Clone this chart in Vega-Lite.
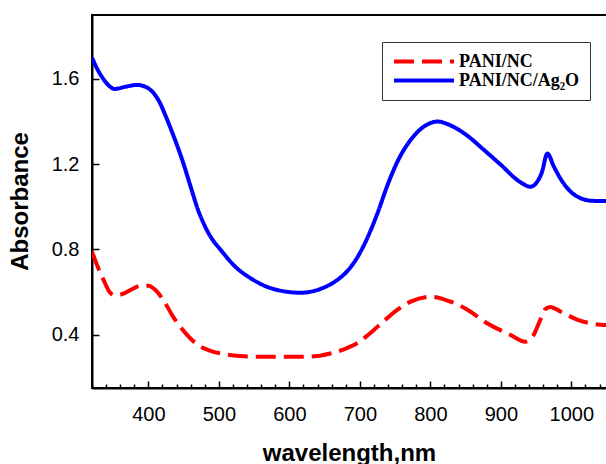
{
  "$schema": "https://vega.github.io/schema/vega-lite/v6.json",
  "width": 516,
  "height": 373,
  "autosize": {"type": "none"},
  "padding": {"left": 92, "top": 15, "right": 0, "bottom": 76},
  "background": "white",
  "config": {
    "view": {"stroke": "#000", "strokeWidth": 2},
    "axis": {"grid": false, "labelFont": "Liberation Sans", "labelFontSize": 20, "labelColor": "#000", "tickColor": "#000", "tickWidth": 1.5, "domainColor": "#000", "domainWidth": 2, "titleFont": "Liberation Sans", "titleFontWeight": "bold", "titleFontSize": 24, "titleColor": "#000"}
  },
  "datasets": {
    "spectra": [
      {"wl": 320, "A": 1.70, "s": "PANI/NC/Ag₂O"},
      {"wl": 327, "A": 1.65, "s": "PANI/NC/Ag₂O"},
      {"wl": 335, "A": 1.605, "s": "PANI/NC/Ag₂O"},
      {"wl": 343, "A": 1.572, "s": "PANI/NC/Ag₂O"},
      {"wl": 352, "A": 1.553, "s": "PANI/NC/Ag₂O"},
      {"wl": 367, "A": 1.563, "s": "PANI/NC/Ag₂O"},
      {"wl": 384, "A": 1.572, "s": "PANI/NC/Ag₂O"},
      {"wl": 399, "A": 1.558, "s": "PANI/NC/Ag₂O"},
      {"wl": 407, "A": 1.535, "s": "PANI/NC/Ag₂O"},
      {"wl": 416, "A": 1.49, "s": "PANI/NC/Ag₂O"},
      {"wl": 424, "A": 1.43, "s": "PANI/NC/Ag₂O"},
      {"wl": 436, "A": 1.33, "s": "PANI/NC/Ag₂O"},
      {"wl": 448, "A": 1.22, "s": "PANI/NC/Ag₂O"},
      {"wl": 460, "A": 1.094, "s": "PANI/NC/Ag₂O"},
      {"wl": 471, "A": 0.98, "s": "PANI/NC/Ag₂O"},
      {"wl": 478, "A": 0.925, "s": "PANI/NC/Ag₂O"},
      {"wl": 485, "A": 0.878, "s": "PANI/NC/Ag₂O"},
      {"wl": 491, "A": 0.846, "s": "PANI/NC/Ag₂O"},
      {"wl": 502, "A": 0.80, "s": "PANI/NC/Ag₂O"},
      {"wl": 523, "A": 0.72, "s": "PANI/NC/Ag₂O"},
      {"wl": 545, "A": 0.665, "s": "PANI/NC/Ag₂O"},
      {"wl": 577, "A": 0.615, "s": "PANI/NC/Ag₂O"},
      {"wl": 616, "A": 0.597, "s": "PANI/NC/Ag₂O"},
      {"wl": 648, "A": 0.62, "s": "PANI/NC/Ag₂O"},
      {"wl": 665, "A": 0.65, "s": "PANI/NC/Ag₂O"},
      {"wl": 682, "A": 0.698, "s": "PANI/NC/Ag₂O"},
      {"wl": 695, "A": 0.755, "s": "PANI/NC/Ag₂O"},
      {"wl": 705, "A": 0.815, "s": "PANI/NC/Ag₂O"},
      {"wl": 725, "A": 0.97, "s": "PANI/NC/Ag₂O"},
      {"wl": 739, "A": 1.10, "s": "PANI/NC/Ag₂O"},
      {"wl": 753, "A": 1.21, "s": "PANI/NC/Ag₂O"},
      {"wl": 776, "A": 1.33, "s": "PANI/NC/Ag₂O"},
      {"wl": 795, "A": 1.385, "s": "PANI/NC/Ag₂O"},
      {"wl": 810, "A": 1.40, "s": "PANI/NC/Ag₂O"},
      {"wl": 830, "A": 1.38, "s": "PANI/NC/Ag₂O"},
      {"wl": 852, "A": 1.335, "s": "PANI/NC/Ag₂O"},
      {"wl": 875, "A": 1.27, "s": "PANI/NC/Ag₂O"},
      {"wl": 899, "A": 1.20, "s": "PANI/NC/Ag₂O"},
      {"wl": 928, "A": 1.115, "s": "PANI/NC/Ag₂O"},
      {"wl": 942, "A": 1.094, "s": "PANI/NC/Ag₂O"},
      {"wl": 952, "A": 1.12, "s": "PANI/NC/Ag₂O"},
      {"wl": 958, "A": 1.16, "s": "PANI/NC/Ag₂O"},
      {"wl": 966, "A": 1.25, "s": "PANI/NC/Ag₂O"},
      {"wl": 975, "A": 1.19, "s": "PANI/NC/Ag₂O"},
      {"wl": 989, "A": 1.11, "s": "PANI/NC/Ag₂O"},
      {"wl": 1009, "A": 1.047, "s": "PANI/NC/Ag₂O"},
      {"wl": 1031, "A": 1.028, "s": "PANI/NC/Ag₂O"},
      {"wl": 1052, "A": 1.027, "s": "PANI/NC/Ag₂O"},
      {"wl": 320, "A": 0.79, "s": "PANI/NC"},
      {"wl": 328, "A": 0.72, "s": "PANI/NC"},
      {"wl": 336, "A": 0.66, "s": "PANI/NC"},
      {"wl": 345, "A": 0.60, "s": "PANI/NC"},
      {"wl": 352, "A": 0.585, "s": "PANI/NC"},
      {"wl": 362, "A": 0.59, "s": "PANI/NC"},
      {"wl": 375, "A": 0.61, "s": "PANI/NC"},
      {"wl": 390, "A": 0.63, "s": "PANI/NC"},
      {"wl": 400, "A": 0.63, "s": "PANI/NC"},
      {"wl": 410, "A": 0.61, "s": "PANI/NC"},
      {"wl": 421, "A": 0.564, "s": "PANI/NC"},
      {"wl": 435, "A": 0.485, "s": "PANI/NC"},
      {"wl": 452, "A": 0.41, "s": "PANI/NC"},
      {"wl": 469, "A": 0.355, "s": "PANI/NC"},
      {"wl": 485, "A": 0.328, "s": "PANI/NC"},
      {"wl": 506, "A": 0.31, "s": "PANI/NC"},
      {"wl": 530, "A": 0.30, "s": "PANI/NC"},
      {"wl": 555, "A": 0.297, "s": "PANI/NC"},
      {"wl": 616, "A": 0.297, "s": "PANI/NC"},
      {"wl": 640, "A": 0.30, "s": "PANI/NC"},
      {"wl": 658, "A": 0.312, "s": "PANI/NC"},
      {"wl": 680, "A": 0.335, "s": "PANI/NC"},
      {"wl": 697, "A": 0.362, "s": "PANI/NC"},
      {"wl": 712, "A": 0.40, "s": "PANI/NC"},
      {"wl": 725, "A": 0.437, "s": "PANI/NC"},
      {"wl": 753, "A": 0.517, "s": "PANI/NC"},
      {"wl": 772, "A": 0.555, "s": "PANI/NC"},
      {"wl": 800, "A": 0.578, "s": "PANI/NC"},
      {"wl": 820, "A": 0.565, "s": "PANI/NC"},
      {"wl": 857, "A": 0.508, "s": "PANI/NC"},
      {"wl": 875, "A": 0.465, "s": "PANI/NC"},
      {"wl": 913, "A": 0.40, "s": "PANI/NC"},
      {"wl": 935, "A": 0.367, "s": "PANI/NC"},
      {"wl": 945, "A": 0.39, "s": "PANI/NC"},
      {"wl": 956, "A": 0.47, "s": "PANI/NC"},
      {"wl": 963, "A": 0.52, "s": "PANI/NC"},
      {"wl": 970, "A": 0.53, "s": "PANI/NC"},
      {"wl": 985, "A": 0.508, "s": "PANI/NC"},
      {"wl": 1009, "A": 0.47, "s": "PANI/NC"},
      {"wl": 1041, "A": 0.447, "s": "PANI/NC"},
      {"wl": 1052, "A": 0.445, "s": "PANI/NC"}
    ]
  },
  "data": {"name": "spectra"},
  "layer": [
    {
      "mark": {"type": "line", "interpolate": "monotone", "strokeWidth": 4, "clip": true},
      "encoding": {
        "x": {"field": "wl", "type": "quantitative", "scale": {"domain": [320, 1052], "nice": false, "zero": false},
          "axis": {"values": [400, 500, 600, 700, 800, 900, 1000], "format": "d", "tickSize": -7, "labelPadding": 23, "title": "wavelength,nm", "titleY": 72, "titleBaseline": "alphabetic", "titleX": 257}},
        "y": {"field": "A", "type": "quantitative", "scale": {"domain": [0.15, 1.9], "nice": false, "zero": false},
          "axis": {"values": [0.4, 0.8, 1.2, 1.6], "format": ".1f", "tickSize": -7, "labelPadding": 20, "title": "Absorbance", "titleX": -60, "titleY": 186}},
        "color": {"field": "s", "type": "nominal", "scale": {"domain": ["PANI/NC", "PANI/NC/Ag₂O"], "range": ["#ff0000", "#0000ff"]},
          "legend": {"title": null, "orient": "none", "legendX": 290, "legendY": 27, "padding": 10, "strokeColor": "#333", "fillColor": "white", "symbolType": "stroke", "symbolSize": 3600, "symbolStrokeWidth": 4, "clipHeight": 19, "rowPadding": 0, "labelFont": "Liberation Serif", "labelFontWeight": "bold", "labelFontSize": 18, "labelColor": "#000", "labelOffset": 3, "cornerRadius": 0}},
        "strokeDash": {"field": "s", "type": "nominal", "scale": {"domain": ["PANI/NC", "PANI/NC/Ag₂O"], "range": [[20, 8], [1, 0]]}}
      }
    },
    {
      "mark": {"type": "point", "opacity": 0},
      "encoding": {
        "x": {"field": "wl", "type": "quantitative",
          "axis": {"orient": "bottom", "values": [320, 340, 360, 380, 420, 440, 460, 480, 520, 540, 560, 580, 620, 640, 660, 680, 720, 740, 760, 780, 820, 840, 860, 880, 920, 940, 960, 980, 1020, 1040], "tickSize": -4, "labels": false, "domain": false, "title": null}},
        "y": {"field": "A", "type": "quantitative"}
      }
    }
  ],
  "resolve": {"axis": {"x": "independent"}}
}
